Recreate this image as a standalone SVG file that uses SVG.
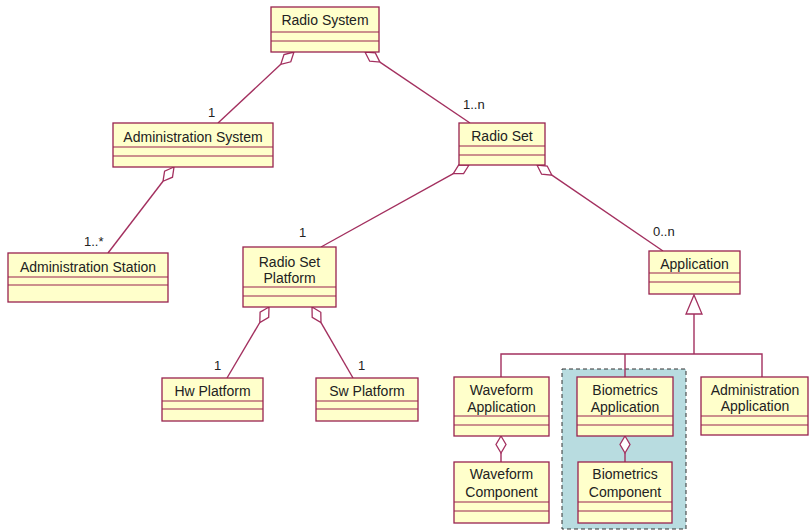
<svg xmlns="http://www.w3.org/2000/svg" width="809" height="531" viewBox="0 0 809 531">
<style>
.box{fill:#FFFFCB;stroke:#99234F;stroke-width:1.3}
.sep{stroke:#99234F;stroke-width:1.2}
.ln{fill:none;stroke:#A3305F;stroke-width:1.4}
.dia{fill:#FFFFFF;stroke:#A3305F;stroke-width:1.3}
.t{font-family:"Liberation Sans",Arial,sans-serif;font-size:14px;fill:#222;text-anchor:middle}
.m{font-family:"Liberation Sans",Arial,sans-serif;font-size:13px;fill:#222}
</style>
<rect width="809" height="531" fill="#FFFFFF"/>
<g id="package">
<rect x="562" y="369" width="124" height="160" fill="#B8DCE0" stroke="#333" stroke-width="1" stroke-dasharray="4,3"/>
</g>
<g id="connectors">
<polygon class="dia" points="294,52 284,54.5 280.8,64.3 290.8,61.8"/>
<line class="ln" x1="280.8" y1="64.3" x2="218" y2="123"/>
<polygon class="dia" points="365,52 375.3,52.9 379.9,62.1 369.7,61.2"/>
<line class="ln" x1="379.9" y1="62.1" x2="470" y2="123"/>
<polygon class="dia" points="469,165 458.7,165 453.3,173.7 463.6,173.7"/>
<line class="ln" x1="453.3" y1="173.7" x2="321" y2="247"/>
<polygon class="dia" points="537,165 541.6,174.2 551.9,175.2 547.2,166"/>
<line class="ln" x1="551.9" y1="175.2" x2="663" y2="251"/>
<polygon class="dia" points="174,167 164.6,171.1 163,181.3 172.5,177.2"/>
<line class="ln" x1="163" y1="181.3" x2="108" y2="253"/>
<polygon class="dia" points="269,307 260.1,312.2 259.8,322.5 268.7,317.3"/>
<line class="ln" x1="259.8" y1="322.5" x2="227" y2="378"/>
<polygon class="dia" points="312,307 312.2,317.3 321,322.6 320.8,312.3"/>
<line class="ln" x1="321" y1="322.6" x2="353" y2="378"/>
<polygon class="dia" points="501,436 506,444.5 501,453 496,444.5"/>
<line class="ln" x1="501" y1="453" x2="501" y2="462"/>
<polygon class="dia" points="625,436 630,444.5 625,453 620,444.5"/>
<line class="ln" x1="625" y1="453" x2="625" y2="462"/>
<polygon class="dia" points="694,295 702,314 686,314"/>
<polyline class="ln" points="694,314 694,354"/>
<polyline class="ln" points="501,377 501,354 762,354 762,377"/>
<line class="ln" x1="625" y1="354" x2="625" y2="377"/>
<text class="m" x="208" y="117">1</text>
<text class="m" x="463" y="109">1..n</text>
<text class="m" x="84" y="246">1..*</text>
<text class="m" x="299" y="237">1</text>
<text class="m" x="653" y="236">0..n</text>
<text class="m" x="214" y="370">1</text>
<text class="m" x="358" y="370">1</text>
</g>
<g id="radio-system">
<rect class="box" x="271" y="7" width="108" height="45"/>
<line class="sep" x1="271" y1="32" x2="379" y2="32"/><line class="sep" x1="271" y1="41" x2="379" y2="41"/>
<text class="t" x="325" y="25">Radio System</text>
</g>
<g id="administration-system">
<rect class="box" x="113" y="123" width="160" height="44"/>
<line class="sep" x1="113" y1="147" x2="273" y2="147"/><line class="sep" x1="113" y1="156" x2="273" y2="156"/>
<text class="t" x="193" y="142">Administration System</text>
</g>
<g id="radio-set">
<rect class="box" x="459" y="123" width="86" height="42"/>
<line class="sep" x1="459" y1="146" x2="545" y2="146"/><line class="sep" x1="459" y1="155" x2="545" y2="155"/>
<text class="t" x="502" y="141">Radio Set</text>
</g>
<g id="administration-station">
<rect class="box" x="8" y="253" width="160" height="49"/>
<line class="sep" x1="8" y1="277" x2="168" y2="277"/><line class="sep" x1="8" y1="285" x2="168" y2="285"/>
<text class="t" x="88" y="272">Administration Station</text>
</g>
<g id="radio-set-platform">
<rect class="box" x="243" y="247" width="93" height="60"/>
<line class="sep" x1="243" y1="287" x2="336" y2="287"/><line class="sep" x1="243" y1="296" x2="336" y2="296"/>
<text class="t" x="289.5" y="267">Radio Set</text>
<text class="t" x="289.5" y="283">Platform</text>
</g>
<g id="application">
<rect class="box" x="649" y="251" width="91" height="43"/>
<line class="sep" x1="649" y1="273" x2="740" y2="273"/><line class="sep" x1="649" y1="282" x2="740" y2="282"/>
<text class="t" x="694.5" y="269">Application</text>
</g>
<g id="hw-platform">
<rect class="box" x="162" y="378" width="101" height="43"/>
<line class="sep" x1="162" y1="401" x2="263" y2="401"/><line class="sep" x1="162" y1="409" x2="263" y2="409"/>
<text class="t" x="212.5" y="396">Hw Platform</text>
</g>
<g id="sw-platform">
<rect class="box" x="316" y="378" width="102" height="43"/>
<line class="sep" x1="316" y1="401" x2="418" y2="401"/><line class="sep" x1="316" y1="409" x2="418" y2="409"/>
<text class="t" x="367" y="396">Sw Platform</text>
</g>
<g id="waveform-application">
<rect class="box" x="454" y="377" width="95" height="59"/>
<line class="sep" x1="454" y1="416" x2="549" y2="416"/><line class="sep" x1="454" y1="425" x2="549" y2="425"/>
<text class="t" x="501.5" y="395">Waveform</text>
<text class="t" x="501.5" y="412">Application</text>
</g>
<g id="waveform-component">
<rect class="box" x="454" y="462" width="95" height="61"/>
<line class="sep" x1="454" y1="502" x2="549" y2="502"/><line class="sep" x1="454" y1="511" x2="549" y2="511"/>
<text class="t" x="501.5" y="479">Waveform</text>
<text class="t" x="501.5" y="497">Component</text>
</g>
<g id="biometrics-application">
<rect class="box" x="577" y="377" width="96" height="59"/>
<line class="sep" x1="577" y1="416" x2="673" y2="416"/><line class="sep" x1="577" y1="425" x2="673" y2="425"/>
<text class="t" x="625" y="395">Biometrics</text>
<text class="t" x="625" y="412">Application</text>
</g>
<g id="biometrics-component">
<rect class="box" x="578" y="462" width="94" height="61"/>
<line class="sep" x1="578" y1="502" x2="672" y2="502"/><line class="sep" x1="578" y1="511" x2="672" y2="511"/>
<text class="t" x="625" y="479">Biometrics</text>
<text class="t" x="625" y="497">Component</text>
</g>
<g id="administration-application">
<rect class="box" x="701" y="377" width="107" height="58"/>
<line class="sep" x1="701" y1="416" x2="808" y2="416"/><line class="sep" x1="701" y1="425" x2="808" y2="425"/>
<text class="t" x="755" y="395">Administration</text>
<text class="t" x="755" y="411">Application</text>
</g>
</svg>
